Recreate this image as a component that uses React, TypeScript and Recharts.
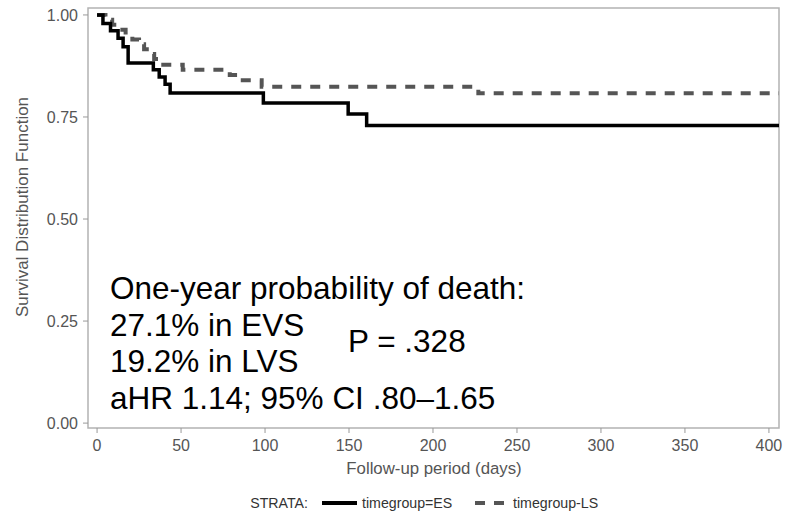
import React from 'react';
import { LineChart, Line, XAxis, YAxis, ReferenceArea, Customized } from 'recharts';

// Kaplan-Meier estimates, day of each step and survival after it
const esDays = [0, 3.5, 8, 12.5, 15.5, 18.5, 33.5, 37, 40.5, 43.5, 99, 149.5, 160.5, 406];
const esSurvival = [1.0, 0.979, 0.961, 0.943, 0.922, 0.882, 0.866, 0.848, 0.83, 0.809, 0.784, 0.757, 0.729, 0.729];

const lsDays = [0, 5, 9, 13, 17, 21, 25, 28, 31, 34, 37, 51, 79, 84, 98, 227, 406];
const lsSurvival = [1.0, 0.988, 0.976, 0.964, 0.952, 0.94, 0.928, 0.916, 0.904, 0.892, 0.878, 0.866, 0.853, 0.84, 0.824, 0.808, 0.808];

const dayTicks = [0, 50, 100, 150, 200, 250, 300, 350, 400];
const survivalTicks = [0, 0.25, 0.5, 0.75, 1];

const noteLines = ['One-year probability of death:', '27.1% in EVS', '19.2% in LVS', 'aHR 1.14; 95% CI .80–1.65'];
const pValueText = 'P = .328';
const strataTitle = 'STRATA:';
const strataLabels = ['timegroup=ES', 'timegroup-LS'];

const xDomain: [number, number] = [-5.4, 406];
const yDomain: [number, number] = [-0.012, 1.017];

const FONT = '"Liberation Sans", Arial, sans-serif';
const AXIS_GREY = '#555';

const toPoints = (days: number[], values: number[]) => days.map((day, i) => ({ day, survival: values[i] }));

const esData = toPoints(esDays, esSurvival);
const lsData = toPoints(lsDays, lsSurvival);

const Annotations = () => (
  <g fontFamily={FONT}>
    {noteLines.map((line, i) => (
      <text key={line} x={110} y={299 + i * 36.5} fontSize={31.5} fill="#000">
        {line}
      </text>
    ))}
    <text x={348} y={352} fontSize={31.5} fill="#000">
      {pValueText}
    </text>

    <text x={434} y={474} fontSize={16.8} fill={AXIS_GREY} textAnchor="middle">
      Follow-up period (days)
    </text>
    <text
      x={28}
      y={207}
      fontSize={17}
      fill={AXIS_GREY}
      textAnchor="middle"
      transform="rotate(-90 28 207)"
    >
      Survival Distribution Function
    </text>

    {/* legend */}
    <g fontSize={14.2} fill="#333">
      <text x={308} y={508} textAnchor="end">{strataTitle}</text>
      <line x1={322} y1={503} x2={357} y2={503} stroke="#000" strokeWidth={4} />
      <text x={362} y={508}>{strataLabels[0]}</text>
      <line x1={475} y1={503} x2={507} y2={503} stroke="#555" strokeWidth={4} strokeDasharray="10 9" />
      <text x={513} y={508}>{strataLabels[1]}</text>
    </g>
  </g>
);

export default function App() {
  return (
    <div style={{ position: 'absolute', left: 0, top: 0, background: '#fff' }}>
      <LineChart width={791} height={518} margin={{ top: 8, right: 12, left: 0, bottom: 60 }}>
        <XAxis
          dataKey="day"
          type="number"
          domain={xDomain}
          ticks={dayTicks}
          allowDataOverflow
          axisLine={false}
          tickSize={5}
          tickMargin={7}
          height={30}
          tickLine={{ stroke: '#999' }}
          tick={{ fill: AXIS_GREY, fontSize: 16, fontFamily: FONT }}
        />
        <YAxis
          type="number"
          domain={yDomain}
          ticks={survivalTicks}
          allowDataOverflow
          axisLine={false}
          width={88}
          tickSize={5}
          tickMargin={5}
          tickLine={{ stroke: '#999' }}
          tickFormatter={(v) => Number(v).toFixed(2)}
          tick={{ fill: AXIS_GREY, fontSize: 16, fontFamily: FONT }}
        />
        <ReferenceArea
          x1={xDomain[0]}
          x2={xDomain[1]}
          y1={yDomain[0]}
          y2={yDomain[1]}
          fill="none"
          stroke="#b3b3b3"
          strokeWidth={1.5}
        />
        <Line
          data={lsData}
          dataKey="survival"
          type="stepAfter"
          stroke="#555"
          strokeWidth={4}
          strokeDasharray="10 9"
          dot={false}
          activeDot={false}
          isAnimationActive={false}
        />
        <Line
          data={esData}
          dataKey="survival"
          type="stepAfter"
          stroke="#000"
          strokeWidth={3.5}
          dot={false}
          activeDot={false}
          isAnimationActive={false}
        />
        <Customized component={<Annotations />} />
      </LineChart>
    </div>
  );
}
